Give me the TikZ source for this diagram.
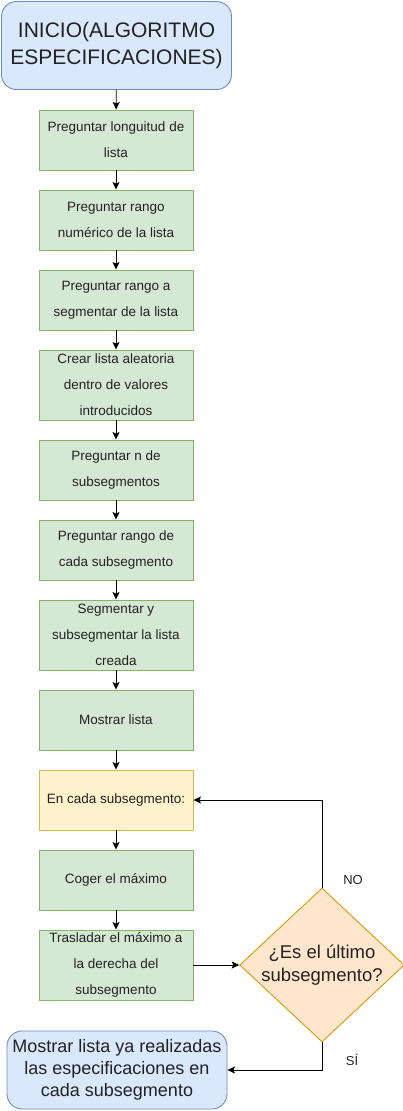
\documentclass[tikz,border=0pt]{standalone}
\usepackage{fontspec}
\setmainfont{Liberation Sans}
\usetikzlibrary{arrows.meta,shapes.geometric}
\definecolor{bluef}{HTML}{DAE8FC}\definecolor{blued}{HTML}{6C8EBF}
\definecolor{greenf}{HTML}{D5E8D4}\definecolor{greend}{HTML}{82B366}
\definecolor{yelf}{HTML}{FFF2CC}\definecolor{yeld}{HTML}{D6B656}
\definecolor{oraf}{HTML}{FFE6CC}\definecolor{orad}{HTML}{D79B00}
\definecolor{txt}{HTML}{222222}
\tikzset{
  greenbox/.style={draw=greend,fill=greenf,line width=0.9pt,minimum width=154pt,align=center,inner sep=0pt,text=txt,font=\fontsize{13.5}{26}\selectfont},
  yellowbox/.style={greenbox,draw=yeld,fill=yelf},
  termbox/.style={draw=blued,fill=bluef,line width=0.9pt,rounded corners=15pt,align=center,inner sep=0pt,text=txt},
  decbox/.style={diamond,draw=orad,fill=oraf,line width=0.9pt,minimum width=160pt,minimum height=150pt,aspect=1.07,inner sep=0pt,align=center,text=txt,font=\fontsize{18.5}{23}\selectfont},
  arr/.style={line width=0.9pt,-{Stealth[length=7.5pt,width=7pt,inset=1.5pt]}},
  lbl/.style={text=txt,font=\fontsize{13}{15}\selectfont}
}
\begin{document}
\begin{tikzpicture}[x=1pt,y=-1pt]
\useasboundingbox (0,0) rectangle (403,1111);
\node[termbox,minimum width=230pt,minimum height=88pt,font=\fontsize{21}{27}\selectfont] (ini) at (116.5,45.5) {INICIO(ALGORITMO\\ESPECIFICACIONES)};
\node[greenbox,minimum height=60pt] (b1) at (116,140) {Preguntar longuitud de\\lista};
\node[greenbox,minimum height=60pt] (b2) at (116,220) {Preguntar rango\\numérico de la lista};
\node[greenbox,minimum height=60pt] (b3) at (116,300) {Preguntar rango a\\segmentar de la lista};
\node[greenbox,minimum height=70pt] (b4) at (116,385) {Crear lista aleatoria\\dentro de valores\\introducidos};
\node[greenbox,minimum height=60pt] (b5) at (116,470) {Preguntar n de\\subsegmentos};
\node[greenbox,minimum height=60pt] (b6) at (116,550) {Preguntar rango de\\cada subsegmento};
\node[greenbox,minimum height=70pt] (b7) at (116,635) {Segmentar y\\subsegmentar la lista\\creada};
\node[greenbox,minimum height=60pt] (b8) at (116,720) {Mostrar lista};
\node[yellowbox,minimum height=60pt] (b9) at (116,800) {En cada subsegmento:};
\node[greenbox,minimum height=60pt] (b10) at (116,880) {Coger el máximo};
\node[greenbox,minimum height=70pt] (b11) at (116,965) {Trasladar el máximo a\\la derecha del\\subsegmento};
\node[decbox] (dia) at (322,965) {¿Es el último\\subsegmento?};
\node[termbox,minimum width=220pt,minimum height=78pt,font=\fontsize{18}{22}\selectfont] (fin) at (117,1070) {Mostrar lista ya realizadas\\las especificaciones en\\cada subsegmento};
\draw[arr] (ini) -- (b1);
\draw[arr] (b1) -- (b2);
\draw[arr] (b2) -- (b3);
\draw[arr] (b3) -- (b4);
\draw[arr] (b4) -- (b5);
\draw[arr] (b5) -- (b6);
\draw[arr] (b6) -- (b7);
\draw[arr] (b7) -- (b8);
\draw[arr] (b8) -- (b9);
\draw[arr] (b9) -- (b10);
\draw[arr] (b10) -- (b11);
\draw[arr] (b11) -- (dia);
\draw[arr] (dia.north) |- (b9.east);
\draw[arr] (dia.south) |- (fin.east);
\node[lbl] (no) at (353,880) {NO};
\node[lbl] (si) at (352,1060) {SÍ};
\end{tikzpicture}
\end{document}
